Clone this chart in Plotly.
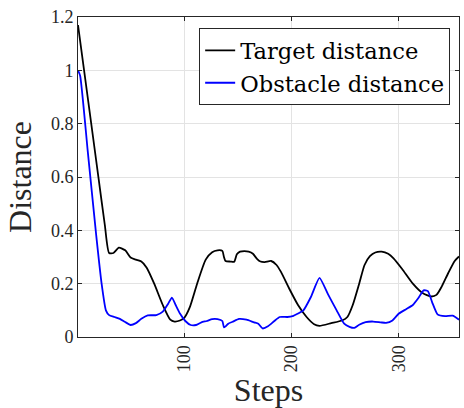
import plotly.graph_objects as go

# Target distance (black)
target_steps = [1, 10, 20, 26, 30, 34, 39, 45, 50, 55, 60, 65, 72, 80, 87, 91, 96, 100, 105, 112, 120, 126, 131, 135.5, 137, 138.5, 143, 146.5, 149, 152, 156, 160, 164, 168, 171, 175, 181, 186, 190, 198, 206, 214, 221, 226, 237, 247, 252, 257, 263, 268, 273, 278, 284, 290, 295, 303, 313, 322, 330, 335, 340, 346, 352, 356]
target_dist = [1.17, 0.9, 0.6, 0.42, 0.315, 0.315, 0.335, 0.325, 0.298, 0.29, 0.283, 0.26, 0.2, 0.12, 0.065, 0.058, 0.062, 0.072, 0.11, 0.2, 0.29, 0.318, 0.325, 0.323, 0.3, 0.285, 0.283, 0.282, 0.31, 0.32, 0.322, 0.32, 0.312, 0.292, 0.283, 0.281, 0.285, 0.27, 0.245, 0.18, 0.12, 0.075, 0.048, 0.042, 0.052, 0.062, 0.075, 0.12, 0.2, 0.27, 0.303, 0.317, 0.32, 0.312, 0.295, 0.255, 0.2, 0.165, 0.152, 0.158, 0.19, 0.24, 0.285, 0.302]

# Obstacle distance (blue)
obstacle_steps = [1, 3, 10, 18, 23, 27, 30, 35, 40, 45, 50, 55, 60, 66, 74, 80, 85, 88.5, 92, 96, 101, 106, 111, 116, 121, 126, 131, 135.5, 137, 138.5, 141, 145, 151, 158, 165, 169, 173, 178, 184, 189, 196, 201, 206, 211, 218, 226, 234, 242, 249, 254, 258.5, 263, 269, 276, 283, 288, 294, 300, 307, 313, 318, 323, 327, 331, 336, 343, 350, 356]
obstacle_dist = [1.0, 0.98, 0.7, 0.38, 0.2, 0.1, 0.082, 0.075, 0.068, 0.056, 0.045, 0.052, 0.068, 0.081, 0.082, 0.095, 0.125, 0.148, 0.12, 0.088, 0.06, 0.045, 0.045, 0.055, 0.06, 0.067, 0.067, 0.06, 0.036, 0.04, 0.05, 0.057, 0.068, 0.065, 0.055, 0.05, 0.032, 0.04, 0.06, 0.075, 0.075, 0.078, 0.088, 0.1, 0.15, 0.222, 0.16, 0.1, 0.05, 0.038, 0.034, 0.046, 0.056, 0.058, 0.055, 0.053, 0.062, 0.088, 0.105, 0.12, 0.145, 0.175, 0.172, 0.13, 0.085, 0.078, 0.08, 0.065]

x_ticks = [100, 200, 300]
y_ticks = [0, 0.2, 0.4, 0.6, 0.8, 1, 1.2]
y_tick_labels = ["0", "0.2", "0.4", "0.6", "0.8", "1", "1.2"]

FONT = "Liberation Serif"

fig = go.Figure()
fig.add_trace(go.Scatter(x=target_steps, y=target_dist, mode="lines", name="Target distance",
                         line=dict(color="black", width=1.8, shape="spline", smoothing=0.6)))
fig.add_trace(go.Scatter(x=obstacle_steps, y=obstacle_dist, mode="lines", name="Obstacle distance",
                         line=dict(color="#0000ff", width=1.8, shape="spline", smoothing=0.5)))

axis_common = dict(showline=True, linecolor="#262626", linewidth=1, mirror="ticks",
                   ticks="inside", ticklen=4, tickcolor="#262626",
                   showgrid=True, gridcolor="#e3e3e3", gridwidth=1, zeroline=False,
                   automargin=False,
                   tickfont=dict(family=FONT, size=18, color="#262626"))

fig.update_xaxes(range=[1, 356], tickvals=x_ticks, tickangle=-90,
                 title=dict(text="Steps", font=dict(family=FONT, size=32, color="#262626"), standoff=0),
                 **axis_common)
fig.update_yaxes(range=[0, 1.2], tickvals=y_ticks, ticktext=y_tick_labels,
                 title=dict(text="Distance", font=dict(family=FONT, size=32, color="#262626"), standoff=9),
                 **axis_common)

fig.update_layout(
    width=464, height=408,
    margin=dict(l=78, r=5, t=17, b=71),
    paper_bgcolor="white", plot_bgcolor="white",
    font=dict(family=FONT, color="#262626"),
    legend=dict(x=0.318, y=0.965, xanchor="left", yanchor="top",
                bgcolor="white", bordercolor="#262626", borderwidth=1,
                font=dict(family="DejaVu Serif", size=22.6, color="black"),
                tracegroupgap=0, itemwidth=30),
    showlegend=True,
)

fig.write_html("out.html", config={"displayModeBar": False},
               post_script="document.body.style.margin='0';")
